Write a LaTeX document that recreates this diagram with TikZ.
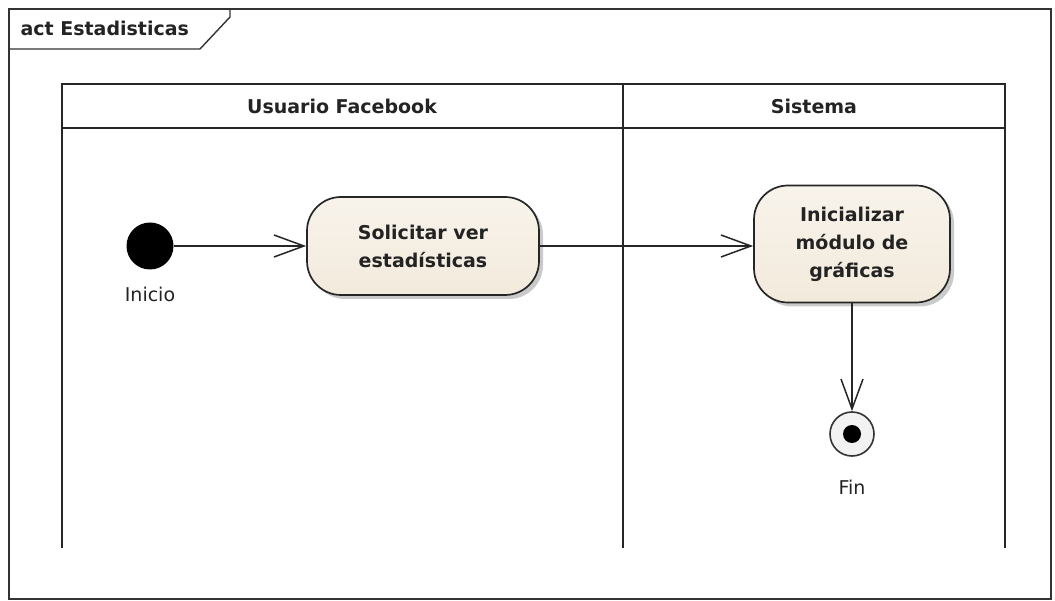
\documentclass[tikz,border=0pt]{standalone}
\usepackage{fontspec}
\setmainfont{DejaVu Sans}
\usetikzlibrary{positioning,arrows.meta,shadows,calc}

\definecolor{actfill}{RGB}{242,234,220}
\definecolor{acttop}{RGB}{248,243,235}
\definecolor{inktext}{RGB}{35,35,35}

\tikzset{
  diagram text/.style={text=inktext, font=\fontsize{19}{28}\selectfont},
  lane line/.style={line width=1.8pt, draw=black!85},
  action/.style={
    rectangle, rounded corners=34pt, draw=black!85, line width=1.7pt,
    top color=acttop, bottom color=actfill,
    drop shadow={shadow xshift=4pt, shadow yshift=-4pt, opacity=.35, fill=black!60},
    diagram text, font=\bfseries\fontsize{19}{28}\selectfont, align=center,
    inner sep=0pt
  },
  flow/.style={line width=1.6pt, draw=black!85,
    -{Straight Barb[length=30pt, width=22pt, line width=1.5pt]}},
  start node/.style={circle, fill=black, minimum size=47pt, inner sep=0pt},
  end node/.style={circle, draw=black!80, line width=1.6pt, fill=white!95!black,
    minimum size=44pt, inner sep=0pt},
  caption/.style={diagram text}
}

\begin{document}
\begin{tikzpicture}[x=1pt, y=-1pt]
  \useasboundingbox (0,0) rectangle (1055,601);

  % frame with its name tab
  \draw[line width=1.4pt, draw=black!80] (9,9) rectangle (1051,599);
  \draw[line width=1.4pt, draw=black!80] (9,49) -- (200,49) -- (230,17) -- (230,9);
  \node (frame_label) [diagram text, font=\bfseries\fontsize{19}{28}\selectfont, %
    anchor=base west] at (17,36) {act Estadisticas};

  % swimlanes
  \draw[lane line] (62,548) -- (62,84) -- (1005,84) -- (1005,548);
  \draw[lane line] (62,128) -- (1005,128);
  \draw[lane line] (623,84) -- (623,548);
  \node (lane_user) [diagram text, font=\bfseries\fontsize{19}{28}\selectfont] %
    at (342,106) {Usuario Facebook};
  \node (lane_system) [diagram text, font=\bfseries\fontsize{19}{28}\selectfont] %
    at (814,106) {Sistema};

  % nodes
  \node (inicio) [start node] at (150,246) {};
  \node (inicio_label) [caption, below=14pt of inicio] {Inicio};

  \node (solicitar) [action, minimum width=232pt, minimum height=98pt] %
    at (423,246) {Solicitar ver\\estadísticas};
  \node (inicializar) [action, minimum width=196pt, minimum height=117pt] %
    at (852,244) {Inicializar\\módulo de\\gráficas};

  \node (fin) [end node] at (852,434) {};
  \node (fin_dot) [circle, fill=black, minimum size=18pt, inner sep=0pt] at (fin) {};
  \node (fin_label) [caption, below=20pt of fin] {Fin};

  % flows
  \draw[flow] (inicio) -- (inicio -| solicitar.west);
  \draw[flow] (solicitar.east) -- (solicitar.east -| inicializar.west);
  \draw[flow] (inicializar.south) -- (fin.north);
\end{tikzpicture}
\end{document}
